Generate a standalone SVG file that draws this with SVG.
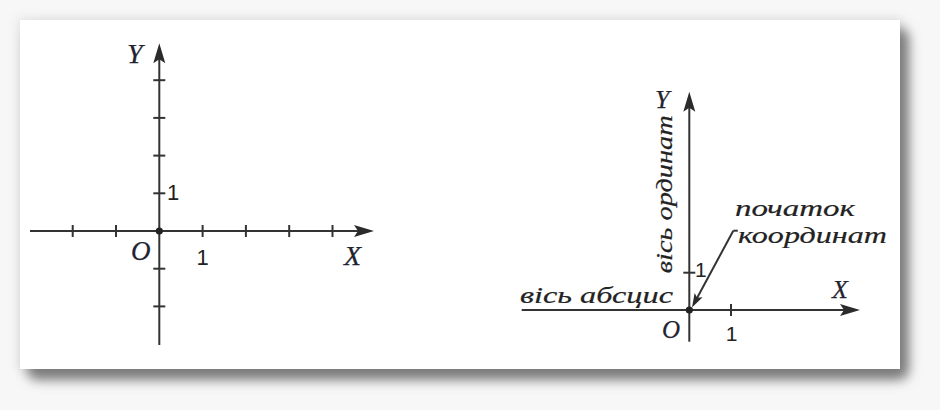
<svg xmlns="http://www.w3.org/2000/svg" width="940" height="410" viewBox="0 0 940 410">
  <defs>
    <filter id="blur" x="-10%" y="-10%" width="120%" height="130%">
      <feGaussianBlur stdDeviation="6"/>
    </filter>
    <filter id="glow" x="-10%" y="-10%" width="120%" height="130%">
      <feGaussianBlur stdDeviation="4"/>
    </filter>
    <marker id="arrowL" markerUnits="userSpaceOnUse" viewBox="-11 -7 22 14" markerWidth="22" markerHeight="14" refX="0" refY="0" orient="auto" overflow="visible">
      <path d="M10,0 L-10,-6 L-6,0 L-10,6 Z" fill="#2b2b2b"/>
    </marker>
    <marker id="arrowS" markerUnits="userSpaceOnUse" viewBox="-8 -5 16 10" markerWidth="16" markerHeight="10" refX="0" refY="0" orient="auto" overflow="visible">
      <path d="M7,0 L-7,-4.5 L-4,0 L-7,4.5 Z" fill="#2b2b2b"/>
    </marker>
    <style>
      .axis { stroke:#333; stroke-width:2; fill:none; }
      .tick { stroke:#333; stroke-width:2; }
      .var { font-family:'Liberation Serif', 'Times New Roman', serif; font-style:italic; fill:#1f2430; stroke:#1f2430; stroke-width:0.25; }
      .num { font-family:'Liberation Sans', Arial, sans-serif; fill:#222; }
      .lbl { font-family:'Liberation Serif', 'Times New Roman', serif; font-style:italic; font-size:23px; fill:#222; stroke:#222; stroke-width:0.2; }
      .dot { fill:#222; }
    </style>
  </defs>

  <!-- background and card -->
  <rect x="0" y="0" width="940" height="410" fill="#f7f7f7"/>
  <rect x="16" y="16" width="888" height="357" rx="6" fill="#e9e9e9" filter="url(#glow)"/>
  <rect x="27" y="28" width="882" height="352" rx="10" fill="#7a7a7a" filter="url(#blur)"/>
  <rect x="20" y="20" width="880" height="349" fill="#ffffff"/>

  <!-- connectors: axes, ticks, pointer -->
  <g id="connectors">
    <line class="axis" x1="30" y1="231" x2="364" y2="231" marker-end="url(#arrowL)"/>
    <line class="axis" x1="159.3" y1="345" x2="159.3" y2="53.3" marker-end="url(#arrowL)"/>
    <g class="tick">
      <line x1="72.7" y1="225" x2="72.7" y2="237"/>
      <line x1="116" y1="225" x2="116" y2="237"/>
      <line x1="202.6" y1="225" x2="202.6" y2="237"/>
      <line x1="245.9" y1="225" x2="245.9" y2="237"/>
      <line x1="289.2" y1="225" x2="289.2" y2="237"/>
      <line x1="332.5" y1="225" x2="332.5" y2="237"/>
      <line x1="153.3" y1="193.3" x2="165.3" y2="193.3"/>
      <line x1="153.3" y1="155.6" x2="165.3" y2="155.6"/>
      <line x1="153.3" y1="117.9" x2="165.3" y2="117.9"/>
      <line x1="153.3" y1="80.2" x2="165.3" y2="80.2"/>
      <line x1="153.3" y1="268.7" x2="165.3" y2="268.7"/>
      <line x1="153.3" y1="306.4" x2="165.3" y2="306.4"/>
    </g>
    <line class="axis" x1="521.7" y1="310" x2="850" y2="310" marker-end="url(#arrowL)"/>
    <line class="axis" x1="689.3" y1="341.7" x2="689.3" y2="101.7" marker-end="url(#arrowL)"/>
    <g class="tick">
      <line x1="731" y1="304" x2="731" y2="316"/>
      <line x1="683.3" y1="272.7" x2="695.3" y2="272.7"/>
    </g>
    <line class="axis" x1="737.8" y1="230.7" x2="733.3" y2="230.7" stroke-width="1.8"/>
    <line class="axis" x1="733.3" y1="230.7" x2="695.3" y2="301.3" stroke-width="1.8" marker-end="url(#arrowS)"/>
  </g>

  <g id="left-system">
    <circle class="dot" cx="159.3" cy="231" r="3.6"/>
    <text class="var" x="127" y="63" font-size="28">Y</text>
    <text class="var" x="344" y="265" font-size="28">X</text>
    <text class="var" x="131" y="260" font-size="27">O</text>
    <text class="num" x="202.6" y="265" font-size="22" text-anchor="middle">1</text>
    <text class="num" x="167" y="200" font-size="22">1</text>
  </g>

  <g id="right-system">
    <circle class="dot" cx="689.3" cy="310" r="3.6"/>
    <text class="var" x="655" y="108" font-size="26">Y</text>
    <text class="var" x="832" y="298" font-size="26">X</text>
    <text class="var" x="662" y="338" font-size="25">O</text>
    <text class="num" x="731.5" y="340.7" font-size="21" text-anchor="middle">1</text>
    <text class="num" x="695" y="276.5" font-size="21">1</text>
  </g>

  <g id="label-abscissa">
    <text class="lbl" x="520" y="302.7" textLength="153" lengthAdjust="spacingAndGlyphs">вісь абсцис</text>
  </g>
  <g id="label-ordinate">
    <text class="lbl" transform="translate(671.7,273.3) rotate(-90)" x="0" y="0" textLength="158" lengthAdjust="spacingAndGlyphs">вісь ординат</text>
  </g>
  <g id="label-origin">
    <text class="lbl" x="735" y="216" textLength="120" lengthAdjust="spacingAndGlyphs">початок</text>
    <text class="lbl" x="738" y="243.3" textLength="149" lengthAdjust="spacingAndGlyphs">координат</text>
  </g>
</svg>
